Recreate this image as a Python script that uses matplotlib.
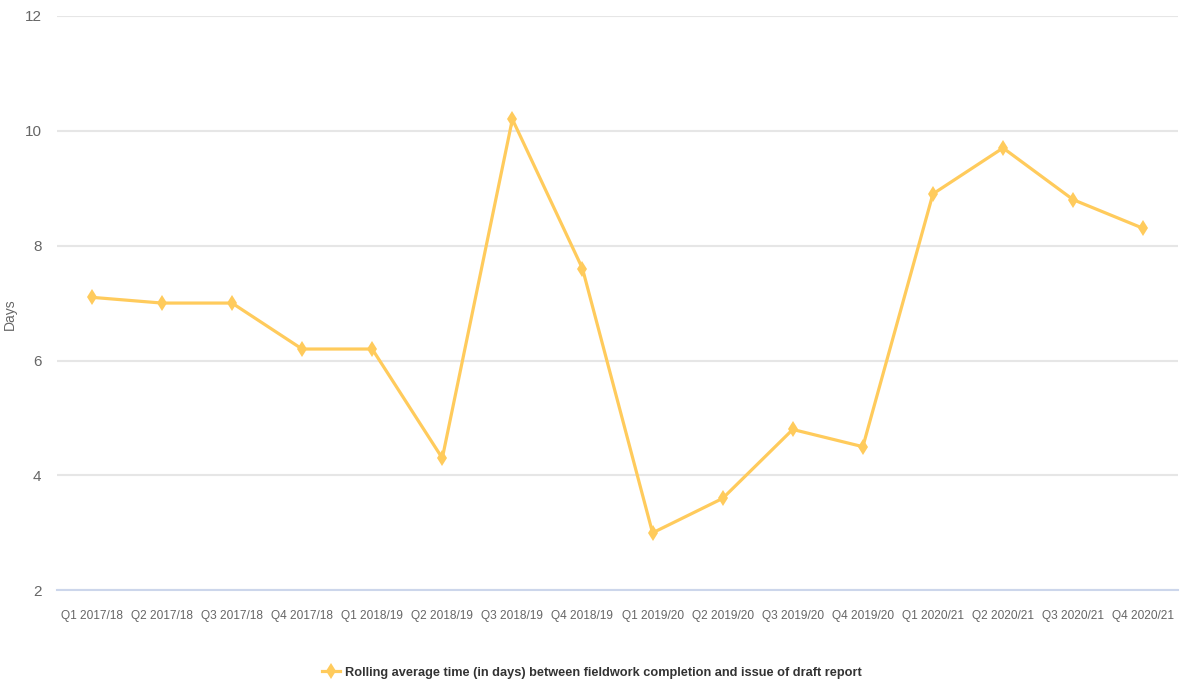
import matplotlib.pyplot as plt

# Quarterly categories and rolling average days
quarters = ["Q1 2017/18", "Q2 2017/18", "Q3 2017/18", "Q4 2017/18",
            "Q1 2018/19", "Q2 2018/19", "Q3 2018/19", "Q4 2018/19",
            "Q1 2019/20", "Q2 2019/20", "Q3 2019/20", "Q4 2019/20",
            "Q1 2020/21", "Q2 2020/21", "Q3 2020/21", "Q4 2020/21"]
days = [7.1, 7.0, 7.0, 6.2, 6.2, 4.3, 10.2, 7.6,
        3.0, 3.6, 4.8, 4.5, 8.9, 9.7, 8.8, 8.3]
yticks = [2, 4, 6, 8, 10, 12]
series_name = "Rolling average time (in days) between fieldwork completion and issue of draft report"

plt.rcParams["font.family"] = ["Liberation Sans", "DejaVu Sans"]

fig = plt.figure(figsize=(11.83, 6.88), dpi=100)
ax = fig.add_axes([0.048, 0.142, 0.948, 0.835])

x = list(range(len(quarters)))
ax.plot(x, days, color="#ffcb5c", lw=2.3, marker="d", markersize=8,
        markeredgewidth=0, label=series_name, zorder=3)

ax.set_xlim(-0.5, len(quarters) - 0.5)
ax.set_ylim(2, 12)
ax.set_yticks(yticks)
ax.set_xticks(x)
ax.set_xticklabels(quarters)
ax.tick_params(axis="both", length=0, colors="#666666")
ax.tick_params(axis="x", pad=14, labelsize=8.6)
ax.tick_params(axis="y", pad=11, labelsize=11)

ax.grid(axis="y", color="#e6e6e6", lw=1.5)
ax.set_axisbelow(True)
for s in ["top", "right", "left"]:
    ax.spines[s].set_visible(False)
ax.spines["bottom"].set_color("#ccd6eb")
ax.spines["bottom"].set_linewidth(1.5)

ax.set_ylabel("Days", color="#666666", fontsize=10)
ax.yaxis.set_label_coords(-0.036, 0.48)

leg = fig.legend(loc="center", bbox_to_anchor=(0.5, 0.022), frameon=False,
                 fontsize=9.2, handlelength=1.4, handletextpad=0.4)
for t in leg.get_texts():
    t.set_color("#333333")
    t.set_fontweight("bold")

fig.savefig("out.png", dpi=100)
